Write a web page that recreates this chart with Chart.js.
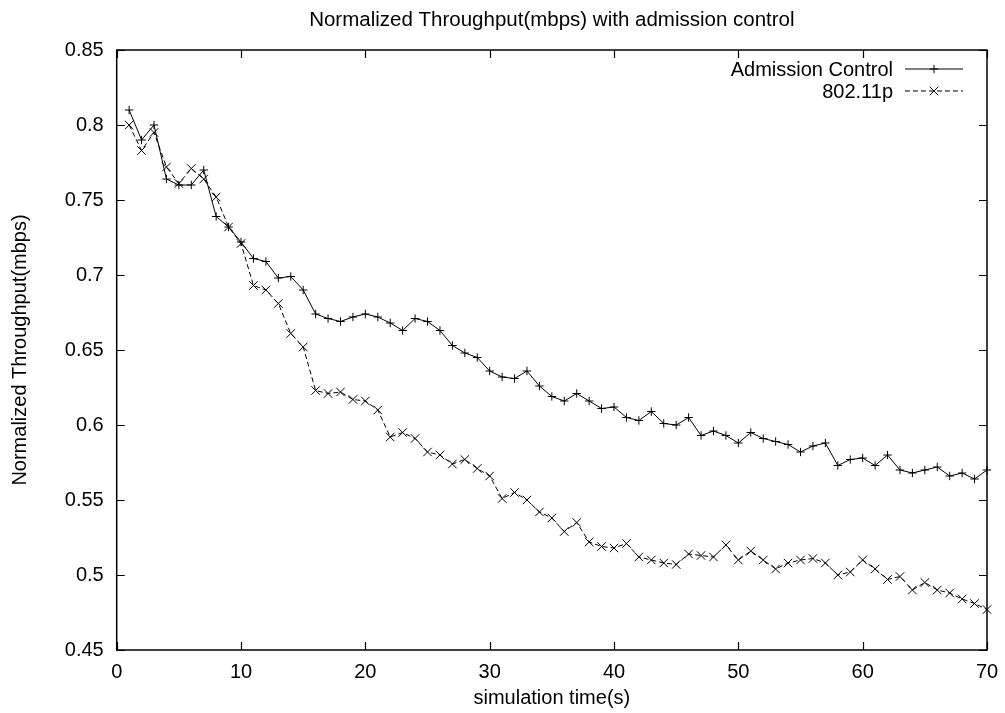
<!DOCTYPE html>
<html>
<head>
<meta charset="utf-8">
<title>Normalized Throughput</title>
<script src="https://cdn.jsdelivr.net/npm/chart.js@4.4.0/dist/chart.umd.min.js"></script>
<style>
  body { margin: 0; background: #fff; }
  #wrap { width: 1005px; height: 713px; }
</style>
</head>
<body>
<div id="wrap"><canvas id="myChart" width="1005" height="713"></canvas></div>
<script>
const simTime = [1, 2, 3, 4, 5, 6, 7, 8, 9, 10, 11, 12, 13, 14, 15, 16, 17, 18, 19, 20,
  21, 22, 23, 24, 25, 26, 27, 28, 29, 30, 31, 32, 33, 34, 35, 36, 37, 38, 39, 40,
  41, 42, 43, 44, 45, 46, 47, 48, 49, 50, 51, 52, 53, 54, 55, 56, 57, 58, 59, 60,
  61, 62, 63, 64, 65, 66, 67, 68, 69, 70];

const admissionControl = [0.810, 0.790, 0.800, 0.764, 0.760, 0.760, 0.770, 0.739, 0.732, 0.722,
  0.711, 0.709, 0.698, 0.699, 0.690, 0.674, 0.671, 0.669, 0.672, 0.674,
  0.672, 0.668, 0.663, 0.671, 0.669, 0.663, 0.653, 0.648, 0.645, 0.636,
  0.632, 0.631, 0.636, 0.626, 0.619, 0.616, 0.621, 0.616, 0.611, 0.612,
  0.605, 0.603, 0.609, 0.601, 0.600, 0.605, 0.593, 0.596, 0.593, 0.588,
  0.595, 0.591, 0.589, 0.587, 0.582, 0.586, 0.588, 0.573, 0.577, 0.578,
  0.573, 0.580, 0.570, 0.568, 0.570, 0.572, 0.566, 0.568, 0.564, 0.570];

const dot11p = [0.800, 0.783, 0.795, 0.772, 0.761, 0.771, 0.764, 0.752, 0.732, 0.721,
  0.693, 0.690, 0.681, 0.661, 0.652, 0.623, 0.621, 0.622, 0.617, 0.616,
  0.610, 0.592, 0.595, 0.591, 0.582, 0.580, 0.574, 0.577, 0.571, 0.566,
  0.551, 0.555, 0.550, 0.542, 0.538, 0.529, 0.535, 0.522, 0.519, 0.518,
  0.521, 0.512, 0.510, 0.508, 0.507, 0.514, 0.513, 0.512, 0.520, 0.510,
  0.516, 0.510, 0.504, 0.508, 0.510, 0.511, 0.508, 0.500, 0.502, 0.510,
  0.504, 0.497, 0.499, 0.490, 0.495, 0.490, 0.488, 0.484, 0.481, 0.477];

const seriesNames = ['Admission Control', '802.11p'];
const xTickLabels = ['0', '10', '20', '30', '40', '50', '60', '70'];
const yTickLabels = ['0.45', '0.5', '0.55', '0.6', '0.65', '0.7', '0.75', '0.8', '0.85'];

const FONT = "'Liberation Sans', Arial, Helvetica, sans-serif";
const FONT_SIZE = 20;

Chart.defaults.color = '#000';
Chart.defaults.font.family = FONT;
Chart.defaults.font.size = FONT_SIZE;

function drawMarker(ctx, style, x, y, r) {
  ctx.beginPath();
  if (style === 'cross') {
    ctx.moveTo(x - r, y); ctx.lineTo(x + r, y);
    ctx.moveTo(x, y - r); ctx.lineTo(x, y + r);
  } else {
    const d = r * Math.SQRT1_2;
    ctx.moveTo(x - d, y - d); ctx.lineTo(x + d, y + d);
    ctx.moveTo(x + d, y - d); ctx.lineTo(x - d, y + d);
  }
  ctx.stroke();
}

// gnuplot style frame, inward ticks on all four sides and the key in the corner
const framePlugin = {
  id: 'frame',
  afterDraw(chart) {
    const { ctx, chartArea: a, scales } = chart;
    const tick = 8;
    ctx.save();
    ctx.strokeStyle = '#000';
    ctx.lineWidth = 1.5;
    ctx.strokeRect(a.left, a.top, a.right - a.left, a.bottom - a.top);
    ctx.beginPath();
    scales.x.ticks.forEach(t => {
      const px = Math.round(scales.x.getPixelForValue(t.value)) + 0.5;
      ctx.moveTo(px, a.bottom); ctx.lineTo(px, a.bottom - tick);
      ctx.moveTo(px, a.top); ctx.lineTo(px, a.top + tick);
    });
    scales.y.ticks.forEach(t => {
      const py = Math.round(scales.y.getPixelForValue(t.value)) + 0.5;
      ctx.moveTo(a.left, py); ctx.lineTo(a.left + tick, py);
      ctx.moveTo(a.right, py); ctx.lineTo(a.right - tick, py);
    });
    ctx.lineWidth = 1.2;
    ctx.stroke();

    ctx.font = FONT_SIZE + 'px ' + FONT;
    ctx.textAlign = 'right';
    ctx.textBaseline = 'middle';
    ctx.fillStyle = '#000';
    chart.data.datasets.forEach((ds, i) => {
      const y = a.top + 19 + i * 22;
      const x0 = a.right - 82, x1 = a.right - 24;
      ctx.fillText(ds.label, a.right - 94, y + 1);
      ctx.lineWidth = ds.borderWidth;
      ctx.setLineDash(ds.borderDash || []);
      ctx.beginPath();
      ctx.moveTo(x0, y); ctx.lineTo(x1, y);
      ctx.stroke();
      ctx.setLineDash([]);
      drawMarker(ctx, ds.pointStyle, (x0 + x1) / 2, y, ds.pointStyle === 'cross' ? 4.2 : 6);
    });
    ctx.restore();
  }
};

const chartCanvas = document.getElementById('myChart').getContext('2d');

const myChart = new Chart(chartCanvas, {
  type: 'line',
  data: {
    datasets: [{
      label: seriesNames[0],
      data: simTime.map((t, i) => ({ x: t, y: admissionControl[i] })),
      borderColor: '#000',
      borderWidth: 1,
      pointStyle: 'cross',
      pointRadius: 4.2,
      pointBorderColor: '#000',
      pointBorderWidth: 1,
      fill: false,
      tension: 0,
      clip: false
    }, {
      label: seriesNames[1],
      data: simTime.map((t, i) => ({ x: t, y: dot11p[i] })),
      borderColor: '#000',
      borderWidth: 1,
      borderDash: [5, 3],
      pointStyle: 'crossRot',
      pointRadius: 6,
      pointBorderColor: '#000',
      pointBorderWidth: 1,
      fill: false,
      tension: 0,
      clip: false
    }]
  },
  options: {
    responsive: false,
    animation: false,
    layout: { padding: { left: 0, right: 18, top: 0, bottom: 0 } },
    plugins: {
      legend: { display: false },
      tooltip: { enabled: false },
      title: {
        display: true,
        fullSize: false,
        text: 'Normalized Throughput(mbps) with admission control',
        color: '#000',
        font: { size: 20.5, weight: 'normal' },
        padding: { top: 7.7, bottom: 17.7 }
      }
    },
    scales: {
      x: {
        type: 'linear',
        min: 0,
        max: 70,
        afterBuildTicks: scale => {
          scale.ticks = xTickLabels.map(s => ({ value: parseFloat(s) }));
        },
        afterFit: scale => {
          scale.height = 63;
          scale.paddingLeft = 0;
          scale.paddingRight = 0;
        },
        grid: { display: false, drawTicks: false },
        border: { display: false },
        ticks: {
          padding: 10,
          maxRotation: 0,
          callback: (v, i) => xTickLabels[i]
        },
        title: {
          display: true,
          text: 'simulation time(s)',
          padding: { top: 0, bottom: 3 }
        }
      },
      y: {
        type: 'linear',
        min: 0.45,
        max: 0.85,
        afterBuildTicks: scale => {
          scale.ticks = yTickLabels.map(s => ({ value: parseFloat(s) }));
        },
        afterFit: scale => { scale.width = 116.7; },
        grid: { display: false, drawTicks: false },
        border: { display: false },
        ticks: {
          padding: 13,
          callback: (v, i) => yTickLabels[i]
        },
        title: {
          display: true,
          text: 'Normalized Throughput(mbps)',
          padding: { top: 8, bottom: 0 }
        }
      }
    }
  },
  plugins: [framePlugin]
});
</script>
</body>
</html>
